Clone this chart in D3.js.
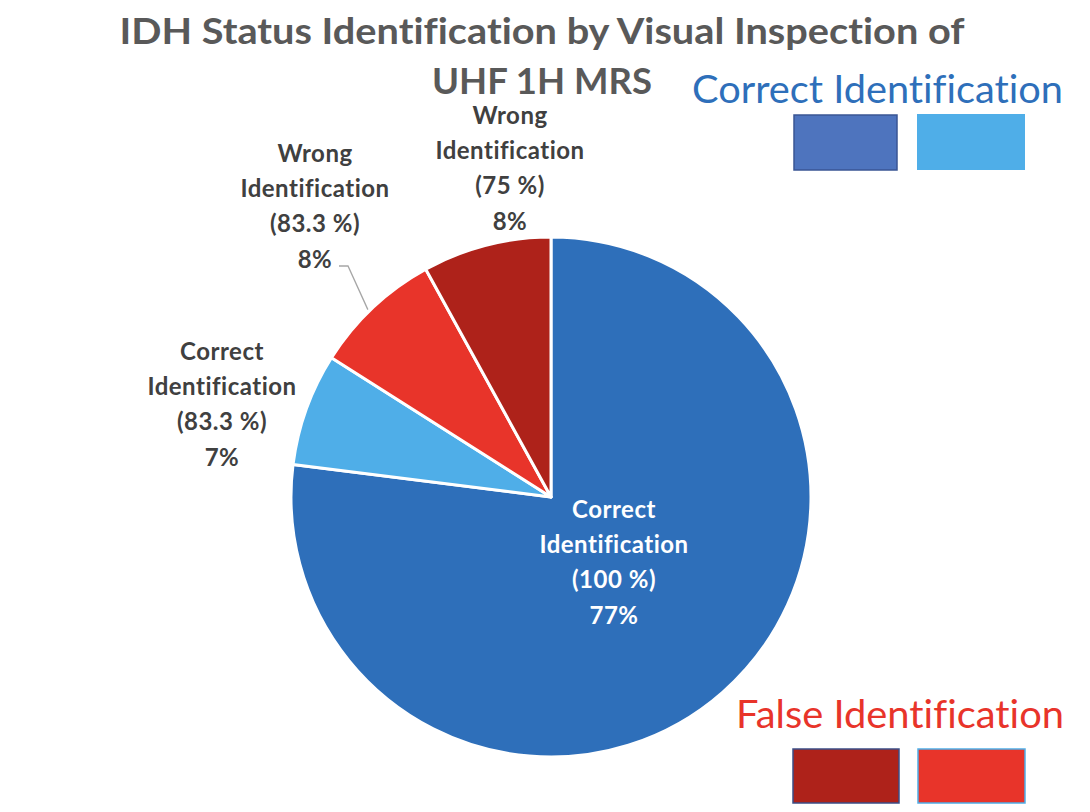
<!DOCTYPE html>
<html><head><meta charset="utf-8">
<script src="https://cdn.jsdelivr.net/npm/d3@7"></script>
<style>body{margin:0;background:#fff;} svg{display:block;} text{font-variant-ligatures:none;}</style>
</head><body>
<svg id="c" width="1090" height="812"></svg>
<script>
const categories = ["Correct Identification (100 %)", "Correct Identification (83.3 %)", "Wrong Identification (83.3 %)", "Wrong Identification (75 %)"];
const values = [77, 7, 8, 8];
const labelLines = [["Correct","Identification","(100 %)","77%"],["Correct","Identification","(83.3 %)","7%"],["Wrong","Identification","(83.3 %)","8%"],["Wrong","Identification","(75 %)","8%"]];
const colors = ["#2E6FBA", "#4FAEE8", "#E8342A", "#AE221A"];
const titleLines = ["IDH Status Identification by Visual Inspection of", "UHF 1H MRS"];
const legendGroups = ["Correct Identification", "False Identification"];

const svg = d3.select("#c");
const cx = 551, cy = 497, R = 260;
const FONT = "Lato, 'Open Sans', sans-serif";

const pie = d3.pie().sort(null).value(d => d)(values);
const arc = d3.arc().innerRadius(0).outerRadius(R);
const g = svg.append("g").attr("transform", `translate(${cx},${cy})`);
g.selectAll("path").data(pie).join("path")
  .attr("d", arc).attr("fill", (d,i) => colors[i])
  .attr("stroke", "#fff").attr("stroke-width", 3).attr("stroke-linejoin","round");

// title
const titleW = [845, 220];
svg.selectAll("text.title").data(titleLines).join("text").attr("class","title")
  .attr("x", 542).attr("y", (d,i) => 44 + i*50)
  .attr("text-anchor","middle").attr("font-family",FONT).attr("font-weight","bold")
  .attr("font-size", 37).attr("fill","#595959")
  .attr("textLength", (d,i) => titleW[i]).attr("lengthAdjust","spacingAndGlyphs").text(d => d);

// data labels
const labelPos = [[614, 518, "#fff"], [222, 360, "#404040"], [315, 162, "#404040"], [510, 124, "#404040"]];
labelLines.forEach((lines, i) => {
  const t = svg.append("text").attr("font-family",FONT).attr("font-weight","bold")
    .attr("font-size", 24).attr("letter-spacing", 0.5).attr("text-anchor","middle").attr("fill", labelPos[i][2]);
  lines.forEach((l, j) => t.append("tspan").attr("x", labelPos[i][0]).attr("y", labelPos[i][1] + j*35.2).text(l));
});
// leader line for red slice
const mid = (pie[2].startAngle + pie[2].endAngle)/2;
svg.append("path").attr("d", d3.line()([[339,266],[348,266],[cx + (R+2)*Math.sin(mid-0.02), cy - (R+2)*Math.cos(mid-0.02)]]))
  .attr("fill","none").attr("stroke","#A6A6A6").attr("stroke-width",1.3);

// legends
svg.append("text").attr("x", 692).attr("y", 103).attr("font-family",FONT).attr("font-size",38)
  .attr("textLength", 371).attr("lengthAdjust","spacingAndGlyphs")
  .attr("fill","#2E6FBA").text(legendGroups[0]);
svg.append("text").attr("x", 736).attr("y", 728).attr("font-family",FONT).attr("font-size",38)
  .attr("textLength", 328).attr("lengthAdjust","spacingAndGlyphs")
  .attr("fill","#E8342A").text(legendGroups[1]);
const boxes = [[794,115,103,55,"#4E74BE","#3A5594"],[917,114,108,56,"#4FAEE8","none"],[793,749,106,54,"#AE221A","#3B4E86"],[918,749,107,54,"#E8342A","#4FAEE8"]];
svg.selectAll("rect.leg").data(boxes).join("rect").attr("class","leg")
  .attr("x", d=>d[0]).attr("y", d=>d[1]).attr("width", d=>d[2]).attr("height", d=>d[3])
  .attr("fill", d=>d[4]).attr("stroke", d=>d[5]).attr("stroke-width", 1.5);
</script>
</body></html>
